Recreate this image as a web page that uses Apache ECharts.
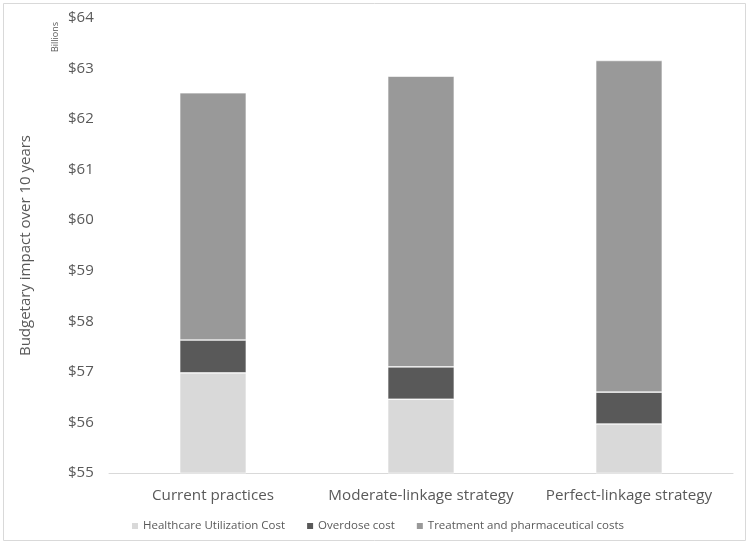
<!DOCTYPE html>
<html>
<head>
<meta charset="utf-8">
<script src="https://cdn.jsdelivr.net/npm/echarts@6/dist/echarts.min.js"></script>
<style>
  html, body { margin: 0; padding: 0; background: #fff; }
  #chart { width: 750px; height: 545px; }
</style>
</head>
<body>
<div id="chart"></div>
<script>
// strategies on the x axis
var categories = ['Current practices', 'Moderate-linkage strategy', 'Perfect-linkage strategy'];

// stacked pieces, billions of dollars (first one is absolute, rest are increments)
var healthcareCost = [56.98, 56.46, 55.97];
var overdoseCost = [0.65, 0.64, 0.63];
var treatmentCost = [4.89, 5.75, 6.56];

var seriesNames = ['Healthcare Utilization Cost', 'Overdose cost', 'Treatment and pharmaceutical costs'];
var seriesColors = ['#d9d9d9', '#595959', '#999999'];

var yMin = 55, yMax = 64, yStep = 1;

var fontFam = '"Open Sans", "Liberation Sans", sans-serif';

var chart = echarts.init(document.getElementById('chart'));

function makeSeries(i, data) {
    return {
        name: seriesNames[i],
        type: 'bar',
        stack: 'total',
        barWidth: '32%',
        data: data,
        itemStyle: { color: seriesColors[i], borderColor: '#ffffff', borderWidth: 0.6 },
        emphasis: { disabled: true }
    };
}

chart.setOption({
    animation: false,
    backgroundColor: '#fff',
    grid: { left: 109, right: 17, top: 18, bottom: 72 },
    graphic: [{
        type: 'rect',
        shape: { x: 3.5, y: 3.5, width: 742, height: 537 },
        style: { fill: 'none', stroke: '#d9d9d9', lineWidth: 1 },
        silent: true
    }, {
        type: 'text',
        x: 55, y: 37,
        rotation: Math.PI / 2,
        style: { text: 'Billions', font: '9px ' + fontFam, fill: '#595959', align: 'center', verticalAlign: 'middle' },
        silent: true
    }],
    legend: {
        top: 515,
        left: 125,
        itemWidth: 8,
        itemHeight: 8,
        itemGap: 20,
        icon: 'rect',
        textStyle: { color: '#595959', fontSize: 11.5, fontFamily: fontFam, padding: [0, 0, 0, -1] },
        data: seriesNames
    },
    xAxis: {
        type: 'category',
        data: categories,
        axisLine: { lineStyle: { color: '#d9d9d9' } },
        axisTick: { show: false },
        axisLabel: { color: '#595959', fontSize: 15.2, fontFamily: fontFam, margin: 15, interval: 0 }
    },
    yAxis: {
        type: 'value',
        min: yMin,
        max: yMax,
        interval: yStep,
        name: 'Budgetary impact over 10 years',
        nameLocation: 'middle',
        nameGap: 76,
        nameTextStyle: { color: '#595959', fontSize: 15, fontFamily: fontFam },
        axisLine: { show: false },
        axisTick: { show: false },
        splitLine: { show: false },
        axisLabel: {
            color: '#595959', fontSize: 15, fontFamily: fontFam, margin: 41, align: 'left',
            formatter: function (v) { return '$' + v; }
        }
    },
    series: [
        makeSeries(0, healthcareCost),
        makeSeries(1, overdoseCost),
        makeSeries(2, treatmentCost)
    ]
});
</script>
</body>
</html>
